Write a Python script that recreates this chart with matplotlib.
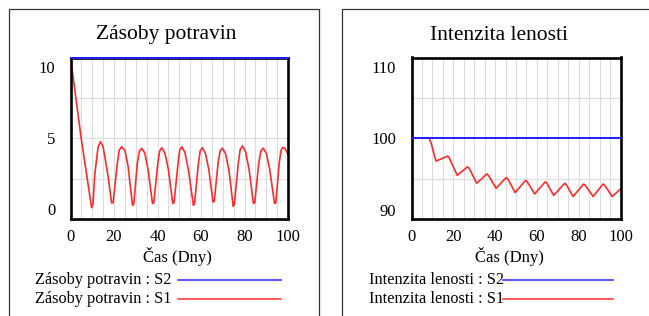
import matplotlib
matplotlib.use("Agg")
import matplotlib.pyplot as plt
from matplotlib.lines import Line2D
from matplotlib.patches import Rectangle
import numpy as np

# Data (Vensim style output)
cas = [0, 100]

zasoby_s2 = [10.7, 10.7]
zasoby_s1_t = [0, 5, 9.7, 10.3, 11.2, 12.7, 13.8, 15.0, 17.3, 18.9, 19.6, 21.5, 22.4, 23.5, 25.0, 26.5,
               28.5, 29.1, 30.7, 31.6, 32.7, 34.2, 35.7, 37.7, 38.3, 40.2, 41.0, 42.0, 43.4, 45.0,
               47.0, 47.6, 49.5, 50.2, 51.2, 52.6, 54.2, 56.5, 57.0, 58.8, 59.6, 60.6, 62.0, 63.6,
               65.5, 66.1, 67.9, 68.8, 69.8, 71.2, 72.8, 74.8, 75.3, 77.2, 78.0, 79.1, 80.5, 82.1,
               84.1, 84.7, 86.6, 87.5, 88.6, 90.0, 91.6, 93.8, 94.4, 96.0, 96.8, 97.6, 98.6, 100]
zasoby_s1 = [10.7, 4.9, 0.1, 0.3, 2.5, 4.4, 4.76, 4.4, 2.3, 0.43, 0.45, 3.2, 4.15, 4.4, 4.15, 3.0,
             0.27, 0.35, 3.2, 4.05, 4.29, 3.95, 2.75, 0.4, 0.45, 3.3, 4.1, 4.33, 3.95, 2.8,
             0.4, 0.45, 3.3, 4.15, 4.4, 4.0, 2.8, 0.27, 0.35, 3.2, 4.1, 4.33, 3.95, 2.8,
             0.5, 0.55, 3.3, 4.1, 4.3, 3.95, 2.8, 0.2, 0.3, 3.3, 4.2, 4.45, 4.05, 2.8,
             0.4, 0.45, 3.3, 4.1, 4.3, 3.95, 2.8, 0.4, 0.45, 3.3, 4.15, 4.35, 4.3, 3.85]

lenost_s2 = [100, 100]
lenost_s1_t = [0, 8.4, 9.3, 11.7, 17.3, 18.0, 21.9, 26.8, 27.6, 31.2, 36.0, 36.8, 40.5, 45.3, 46.1,
               49.6, 54.6, 55.4, 58.9, 64.0, 64.8, 68.0, 73.3, 74.1, 77.3, 82.4, 83.2, 86.9,
               91.7, 92.5, 96.0, 97.0, 100]
lenost_s1 = [100, 100, 99.4, 96.8, 97.5, 97.3, 94.8, 96.0, 95.8, 93.7, 95.0, 94.8, 93.0, 94.5, 94.3,
             92.4, 94.1, 93.9, 92.2, 93.9, 93.7, 92.0, 93.7, 93.5, 91.85, 93.6, 93.4, 91.85,
             93.6, 93.4, 91.85, 92.1, 92.9]

x_ticks = [0, 20, 40, 60, 80, 100]

W, H = 649, 316
plt.rcParams['font.family'] = ['Liberation Serif', 'DejaVu Serif']

fig = plt.figure(figsize=(W / 100, H / 100), dpi=100)


def px(x0, y0, x1, y1):
    # pixel box -> figure fraction [left, bottom, width, height]
    return [x0 / W, 1 - y1 / H, (x1 - x0) / W, (y1 - y0) / H]


def panel(rect, ylim, yticks, title, title_x, s1_t, s1, s2, label, xlab_x, leg_x, leg_line):
    ax = fig.add_axes(px(*rect))
    ax.plot(s1_t, s1, color='#ff2a2a', lw=1.2, zorder=3)
    ax.plot(cas, s2, color='#1e1eff', lw=1.4, zorder=6, clip_on=False)
    ax.set_xlim(0, 100)
    ax.set_ylim(*ylim)

    # grid: every 5 days vertically, 4 equal bands horizontally
    for xv in np.arange(5, 100, 5):
        ax.axvline(xv, color='#dddddd', lw=0.8, zorder=1)
    for yv in np.linspace(ylim[0], ylim[1], 5)[1:-1]:
        ax.axhline(yv, color='#dddddd', lw=0.8, zorder=1)

    ax.set_xticks(x_ticks)
    ax.set_yticks(yticks)
    ax.tick_params(length=0, labelsize=12, pad=7)
    ax.tick_params(axis='y', pad=11)
    for s in ax.spines.values():
        s.set_linewidth(1.9)
        s.set_zorder(5)

    fig.text(title_x / W, 1 - 35 / H, title, fontsize=15.5, ha='center', va='center')
    fig.text(xlab_x / W, 1 - 256 / H, 'Čas (Dny)', fontsize=12, ha='center', va='center')

    # legend rows
    for i, (ser, col) in enumerate([('S2', '#3a3aff'), ('S1', '#ff4040')]):
        yy = 1 - (280 + 19 * i) / H
        fig.text(leg_x / W, yy, f'{label} : {ser}', fontsize=11.7, ha='left', va='center')
        fig.add_artist(Line2D([leg_line[0] / W, leg_line[1] / W], [yy, yy], color=col, lw=1.2))
    return ax


panel((70.5, 57.5, 288, 219), (-0.7, 10.7), [0, 5, 10], 'Zásoby potravin', 166,
      zasoby_s1_t, zasoby_s1, zasoby_s2, 'Zásoby potravin', 177.5, 35, (177.7, 280.7))
panel((411.5, 57.5, 620.5, 219), (88.7, 111.3), [90, 100, 110], 'Intenzita lenosti', 498.5,
      lenost_s1_t, lenost_s1, lenost_s2, 'Intenzita lenosti', 509, 369, (503.3, 613.3))

# outer frames around both panels
fig.add_artist(Rectangle((9.3 / W, -0.1), (319 - 9.3) / W, 1.1 - 9.3 / H,
                         transform=fig.transFigure, fill=False, ec='#333333', lw=0.9))
fig.add_artist(Rectangle((341.7 / W, -0.1), 0.6, 1.1 - 9.3 / H,
                         transform=fig.transFigure, fill=False, ec='#333333', lw=0.9))

fig.savefig('out.png', dpi=100)
